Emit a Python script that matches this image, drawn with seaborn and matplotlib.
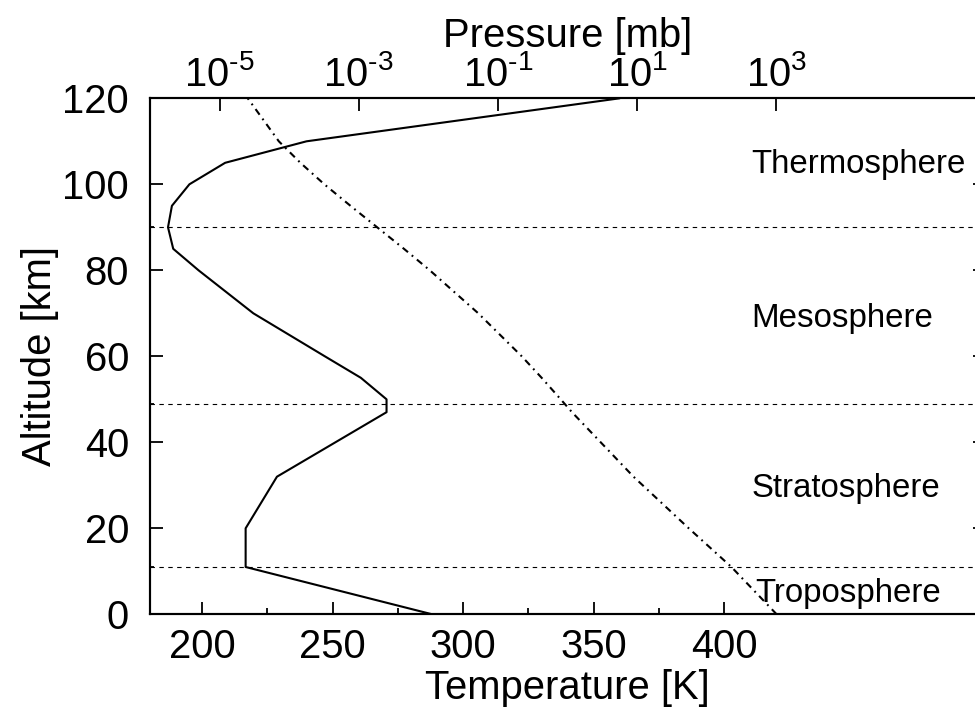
import matplotlib
matplotlib.use("Agg")
import matplotlib.pyplot as plt
import matplotlib.ticker as mticker
import numpy as np
import pandas as pd
import seaborn as sns

# ---------------- data (US-standard-atmosphere profile) ----
altitude_km = [0, 11, 20, 32, 47, 50, 55, 60, 70, 80, 85, 90, 95, 100, 105, 110, 120]
temperature_K = [288.15, 216.65, 216.65, 228.65, 270.65, 270.65, 260.8, 247.0, 219.6,
                 198.6, 188.9, 186.9, 188.4, 195.1, 208.8, 240.0, 360.0]
pressure_mb = [1013.25, 226.99, 55.29, 8.89, 1.16, 0.798, 0.425, 0.220, 0.0522,
               0.0105, 0.00446, 0.00184, 7.6e-4, 3.2e-4, 1.45e-4, 7.1e-5, 2.54e-5]

layer_boundaries_km = [11, 49, 90]
layer_names = ["Troposphere", "Stratosphere", "Mesosphere", "Thermosphere"]

temp_ticks = [200, 250, 300, 350, 400]
temp_minor_ticks = [225, 275, 325, 375]
alt_ticks = [0, 20, 40, 60, 80, 100, 120]
pressure_ticks = [1e-5, 1e-3, 1e-1, 1e1, 1e3]
pressure_tick_labels = ["$10^{\u20105}$", "$10^{\u20103}$", "$10^{\u20101}$",
                        "$10^{1}$", "$10^{3}$"]

df = pd.DataFrame({"alt": altitude_km, "T": temperature_K, "p": pressure_mb})

# ---------------- style ----------------
sns.set_theme(style="white")
plt.rcParams["font.family"] = ["Liberation Sans", "DejaVu Sans"]
plt.rcParams["mathtext.fontset"] = "custom"
plt.rcParams["mathtext.rm"] = "Liberation Sans"
plt.rcParams["mathtext.it"] = "Liberation Sans:italic"
plt.rcParams["mathtext.bf"] = "Liberation Sans:bold"
plt.rcParams["lines.scale_dashes"] = False
for k in ["text.color", "axes.labelcolor", "xtick.color", "ytick.color",
          "axes.edgecolor"]:
    plt.rcParams[k] = "black"

W, H = 975, 709
fig = plt.figure(figsize=(W / 100, H / 100), dpi=100)
fig.patch.set_facecolor("white")

left_px, right_px, top_px, bottom_px = 150, 985, 98.3, 614.3
ax = fig.add_axes([left_px / W, (H - bottom_px) / H,
                   (right_px - left_px) / W, (bottom_px - top_px) / H])
ax.set_facecolor("white")

# temperature profile
sns.lineplot(data=df, x="T", y="alt", sort=False, estimator=None, color="black",
             linewidth=1.5, ax=ax)

# layer boundaries
for b in layer_boundaries_km:
    ax.axhline(b, color="black", linewidth=0.8, dashes=(3.2, 3.2), zorder=1)

ax.set_xlim(180, 500)
ax.set_ylim(0, 120)
ax.xaxis.set_major_locator(mticker.FixedLocator(temp_ticks))
ax.xaxis.set_minor_locator(mticker.FixedLocator(temp_minor_ticks))
ax.yaxis.set_major_locator(mticker.FixedLocator(alt_ticks))
ax.yaxis.set_minor_locator(mticker.FixedLocator(layer_boundaries_km))

FS = 28.8
ax.set_xlabel("Temperature [K]", fontsize=FS, labelpad=2)
ax.set_ylabel("Altitude [km]", fontsize=FS, labelpad=2.5)
ax.tick_params(axis="x", which="major", direction="in", length=9, width=1.3,
               labelsize=FS, pad=10, top=False, bottom=True)
ax.tick_params(axis="x", which="minor", direction="in", length=4.5, width=1.3,
               top=False, bottom=True)
ax.tick_params(axis="y", which="major", direction="in", length=9, width=1.3,
               labelsize=FS, pad=15, left=True, right=True)
ax.tick_params(axis="y", which="minor", direction="in", length=3, width=1.3,
               left=True, right=False)

for s in ax.spines.values():
    s.set_visible(True)
    s.set_color("black")
    s.set_linewidth(1.5)

# pressure profile on top log axis
ax2 = ax.twiny()
sns.lineplot(data=df, x="p", y="alt", sort=False, estimator=None, color="black",
             linewidth=1.5, ax=ax2)
ax2.lines[0].set_dashes((5.0, 3.5, 1.3, 3.5))
ax2.set_xscale("log")
ax2.set_xlim(1e-6, 1e6)
ax2.set_ylim(0, 120)
ax2.xaxis.set_major_locator(mticker.FixedLocator(pressure_ticks))
ax2.xaxis.set_major_formatter(mticker.FixedFormatter(pressure_tick_labels))
ax2.xaxis.set_minor_locator(mticker.NullLocator())
ax2.set_xlabel("Pressure [mb]", fontsize=FS, labelpad=6)
ax2.set_ylabel("")
ax2.tick_params(axis="x", which="major", direction="in", length=9, width=1.3,
                labelsize=FS, pad=3, top=True, bottom=False)
for s in ax2.spines.values():
    s.set_linewidth(1.5)
    s.set_color("black")

# layer names
label_alt = [2.9, 27.3, 66.7, 102.6]
label_T = [411.8, 410.5, 410.5, 410.5]
for name, tx, ty in zip(layer_names, label_T, label_alt):
    ax.text(tx, ty, name, fontsize=23.8, ha="left", va="baseline", color="black",
            zorder=5)

fig.savefig("out.png", dpi=100, facecolor="white")
